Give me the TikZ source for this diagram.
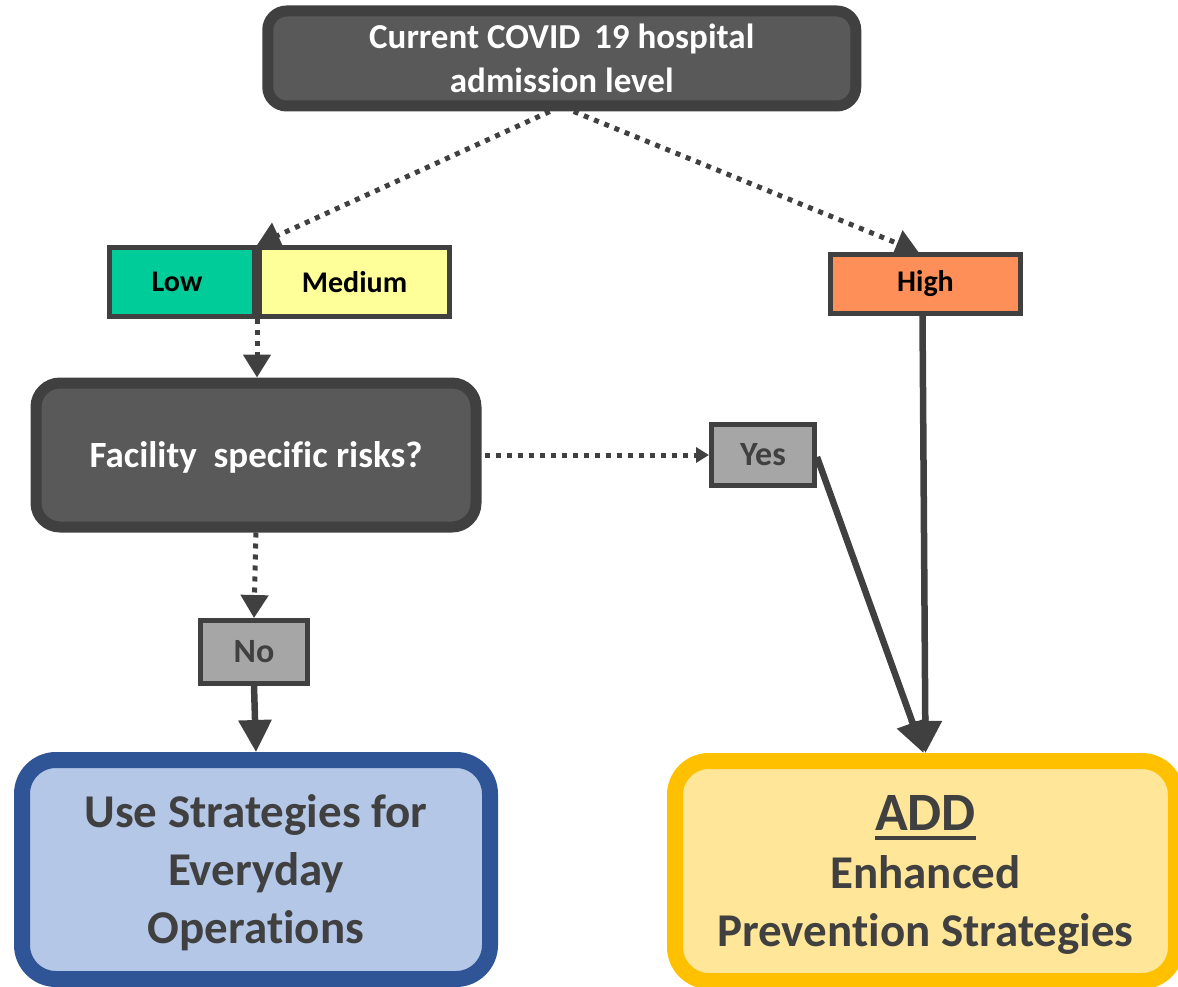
\documentclass[tikz,border=0pt]{standalone}
\usepackage{fontspec}
\setmainfont{Carlito}[Ligatures=NoCommon]
\usetikzlibrary{arrows.meta}
\definecolor{charcoal}{HTML}{404040}
\definecolor{slate}{HTML}{595959}
\definecolor{mint}{HTML}{00CC99}
\definecolor{lemon}{HTML}{FFFF99}
\definecolor{coral}{HTML}{FF8F59}
\definecolor{silver}{HTML}{A6A6A6}
\definecolor{navy}{HTML}{2F5597}
\definecolor{sky}{HTML}{B4C7E7}
\definecolor{amber}{HTML}{FFC000}
\definecolor{cream}{HTML}{FFE699}
\newcommand{\subraya}[1]{\setbox0\hbox{#1}\rlap{\rule[-9pt]{\wd0}{4pt}}\box0}
\tikzset{
    dark/.style={draw=charcoal, fill=slate, text=white, line width=11pt, inner sep=0pt, align=center, font=\bfseries\fontsize{35}{44}\selectfont},
    lvl/.style={draw=charcoal, text=black, line width=5pt, inner sep=0pt, font=\bfseries\fontsize{30}{36}\selectfont},
    ans/.style={draw=charcoal, fill=silver, text=charcoal, line width=5pt, inner sep=0pt, font=\bfseries\fontsize{34}{40}\selectfont},
    goal/.style={text=charcoal, line width=16pt, inner sep=0pt, rounded corners=34pt, align=center, text depth=0pt, font=\bfseries\fontsize{47}{58}\selectfont},
    dots/.style={charcoal, line width=5pt, dash pattern=on 5pt off 6pt, -{Triangle[width=27pt, length=23pt]}},
    conn/.style={charcoal, line width=6.5pt, -{Triangle[width=32pt, length=32pt]}},
}
\begin{document}
\begin{tikzpicture}[x=1pt, y=-1pt]
    \useasboundingbox (0,0) rectangle (1178,987);
    \node[dark, minimum width=588pt, minimum height=95pt, rounded corners=19pt] (lvl) at (561.75,58.5) {Current COVID\ \,19 hospital\\admission level};
    \node[lvl, fill=mint, minimum width=145pt, minimum height=69pt] (low) at (182,282) {Low\hspace*{10pt}};
    \node[lvl, fill=lemon, minimum width=190pt, minimum height=69pt] (med) at (354.5,282) {Medium};
    \node[lvl, fill=coral, minimum width=190pt, minimum height=59pt] (high) at (925.5,284) {High};
    \node[dark, minimum width=440pt, minimum height=144pt, rounded corners=24pt, text depth=0pt, font=\bfseries\fontsize{37}{44}\selectfont] (risk) at (256,455) {Facility\ \ specific risks?};
    \node[ans, minimum width=103pt, minimum height=61pt] (yes) at (763,455) {Yes};
    \node[ans, minimum width=107pt, minimum height=63pt] (no) at (254,652) {No};
    \node[goal, draw=navy, fill=sky, minimum width=468pt, minimum height=219pt] (every) at (256,869.5) {Use Strategies for\\Everyday\\Operations};
    \node[goal, draw=amber, fill=cream, minimum width=501pt, minimum height=220pt] (add) at (925.5,871) {{\fontsize{54}{59}\selectfont\subraya{ADD}}\\Enhanced\\Prevention Strategies};

    \draw[dots] ([xshift=-12pt]lvl.south) -- (low.north east);
    \draw[dots] ([xshift=12pt]lvl.south) -- ([xshift=-7pt]high.north);
    \draw[dots] (low.south east) -- (low.south east |- risk.north);
    \draw[dots, -{Triangle[width=15pt, length=13pt]}] ([xshift=3pt]risk.east) -- (yes.west);
    \draw[dots] (risk.south) -- (no.north);
    \draw[conn] (no.south) -- (every.north);
    \draw[conn] ([yshift=-2pt]yes.east) -- ([xshift=-2pt]add.north);
    \draw[conn] ([xshift=-3pt]high.south) -- (add.north);
\end{tikzpicture}
\end{document}
